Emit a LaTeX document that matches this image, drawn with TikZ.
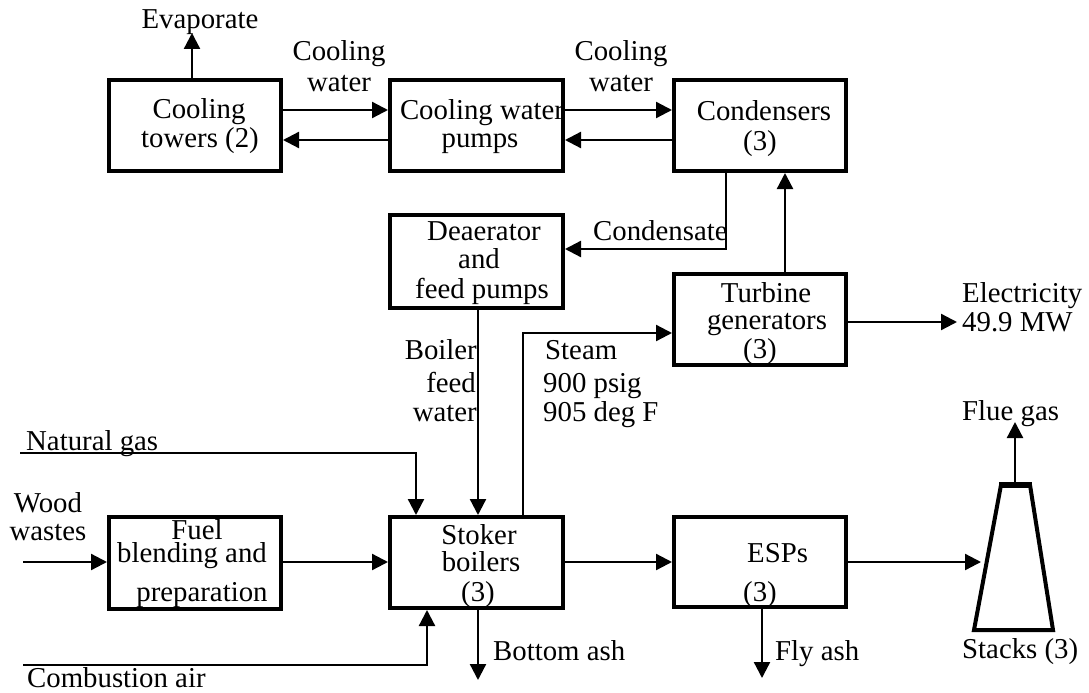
\documentclass[tikz,border=0pt]{standalone}
\usepackage{fontspec}
\setmainfont{Liberation Serif}
\usetikzlibrary{arrows.meta}
\begin{document}
\begin{tikzpicture}[x=1pt,y=-1pt,
  box/.style={draw,line width=4pt,minimum width=172pt,minimum height=91pt,inner sep=0pt},
  conn/.style={line width=2.3pt},
  arr/.style={conn,-{Triangle[length=16pt,width=16pt]}},
  txt/.style={font=\fontsize{28.8}{30}\selectfont,inner sep=0pt,anchor=base},
  txtl/.style={txt,anchor=base west},
  txtr/.style={txt,anchor=base east}]
\useasboundingbox (0,0) rectangle (1089,693);

% boxes
\node[box] (ct) at (195,125.5) {};
\node[box,minimum width=173pt] (cwp) at (476.5,125.5) {};
\node[box] (cond) at (760,125.5) {};
\node[box,minimum width=173pt,minimum height=93pt] (dea) at (476.5,261.5) {};
\node[box] (tg) at (760,319.5) {};
\node[box,minimum height=92pt] (fuel) at (195,563) {};
\node[box,minimum width=173pt] (stoker) at (476.5,562.5) {};
\node[box,minimum height=90pt] (esp) at (760,562) {};

% box texts
\node[txt] (ct1) at (199,118) {Cooling};
\node[txt] (ct2) at (200,147) {towers (2)};
\node[txt] (cwp1) at (482,119) {Cooling water};
\node[txt] (cwp2) at (480,147) {pumps};
\node[txt] (cd1) at (764,120) {Condensers};
\node[txt] (cd2) at (760,150) {(3)};
\node[txt] (de1) at (484,240) {Deaerator};
\node[txt] (de2) at (479,268) {and};
\node[txt] (de3) at (482,298) {feed pumps};
\node[txt] (tg1) at (766,302) {Turbine};
\node[txt] (tg2) at (767,329) {generators};
\node[txt] (tg3) at (760,358) {(3)};
\node[txt] (fu1) at (197,539) {Fuel};
\node[txt] (fu2) at (192,562) {blending and};
\node[txt] (fu3) at (202,601) {preparation};
\node[txt] (sb1) at (479,544) {Stoker};
\node[txt] (sb2) at (481,571) {boilers};
\node[txt] (sb3) at (478,601) {(3)};
\node[txtl] (es1) at (747,562) {ESPs};
\node[txt] (es2) at (760,601) {(3)};

% free labels
\node[txt] (evap) at (200,29) {Evaporate};
\node[txt] (cw1a) at (339,60) {Cooling};
\node[txt] (cw1b) at (339,91) {water};
\node[txt] (cw2a) at (621,60) {Cooling};
\node[txt] (cw2b) at (621,91) {water};
\node[txtl] (cdl) at (593,240) {Condensate};
\node[txtl] (el1) at (962,302) {Electricity};
\node[txtl] (el2) at (962,331) {49.9 MW};
\node[txtr] (bf1) at (477,359) {Boiler};
\node[txtr] (bf2) at (476,392) {feed};
\node[txtr] (bf3) at (477,421) {water};
\node[txtl] (st1) at (545,359) {Steam};
\node[txtl] (st2) at (543,392) {900 psig};
\node[txtl] (st3) at (543,421) {905 deg F};
\node[txtl] (ng) at (26,450) {Natural gas};
\node[txt] (ww1) at (48,512) {Wood};
\node[txt] (ww2) at (48,540) {wastes};
\node[txtl] (ca) at (27,687) {Combustion air};
\node[txtl] (ba) at (493,660) {Bottom ash};
\node[txtl] (fa) at (775,660) {Fly ash};
\node[txtl] (fg) at (962,420) {Flue gas};
\node[txtl] (stk) at (962,658) {Stacks (3)};

% coordinates
\coordinate (y110) at (0,110);
\coordinate (y140) at (0,140);
\coordinate (evapT) at (192,33);
\coordinate (cA) at (726,249);
\coordinate (x785) at (785,0);
\coordinate (elT) at (957,322);
\coordinate (stA) at (523,333);
\coordinate (x478) at (478,0);
\coordinate (ngS) at (20,453);
\coordinate (ngC) at (416,453);
\coordinate (wwS) at (23,562);
\coordinate (caS) at (23,665);
\coordinate (caC) at (427,665);
\coordinate (baT) at (478,680);
\coordinate (faT) at (762,678);
\coordinate (stkIn) at (981,562);
\coordinate (sTL) at (1001,485);
\coordinate (sTR) at (1030,485);
\coordinate (sBR) at (1053,630);
\coordinate (sBL) at (974,630);
\coordinate (fgT) at (1015,422);

% stack
\draw[line width=4pt,line join=miter] (sTL) -- (sTR) -- (sBR) -- (sBL) -- cycle;
\draw[line width=5.5pt] ([xshift=-2pt]sTL) -- ([xshift=2pt]sTR);

% connectors
\draw[arr] (evapT |- ct.north) -- (evapT);
\draw[arr] (ct.east |- y110) -- (cwp.west |- y110);
\draw[arr] (cwp.west |- y140) -- (ct.east |- y140);
\draw[arr] (cwp.east |- y110) -- (cond.west |- y110);
\draw[arr] (cond.west |- y140) -- (cwp.east |- y140);
\draw[arr] (cA |- cond.south) -- (cA) -- (cA -| dea.east);
\draw[arr] (x785 |- tg.north) -- (x785 |- cond.south);
\draw[arr] (tg.east |- elT) -- (elT);
\draw[arr] (stA |- stoker.north) -- (stA) -- (stA -| tg.west);
\draw[arr] (x478 |- dea.south) -- (x478 |- stoker.north);
\draw[arr] (ngS) -- (ngC) -- (ngC |- stoker.north);
\draw[arr] (wwS) -- (wwS -| fuel.west);
\draw[arr] (fuel.east |- wwS) -- (stoker.west |- wwS);
\draw[arr] (caS) -- (caC) -- (caC |- stoker.south);
\draw[arr] (baT |- stoker.south) -- (baT);
\draw[arr] (stoker.east |- wwS) -- (esp.west |- wwS);
\draw[arr] (faT |- esp.south) -- (faT);
\draw[arr] (esp.east |- stkIn) -- (stkIn);
\draw[arr] (fgT |- sTL) -- (fgT);
\end{tikzpicture}
\end{document}
